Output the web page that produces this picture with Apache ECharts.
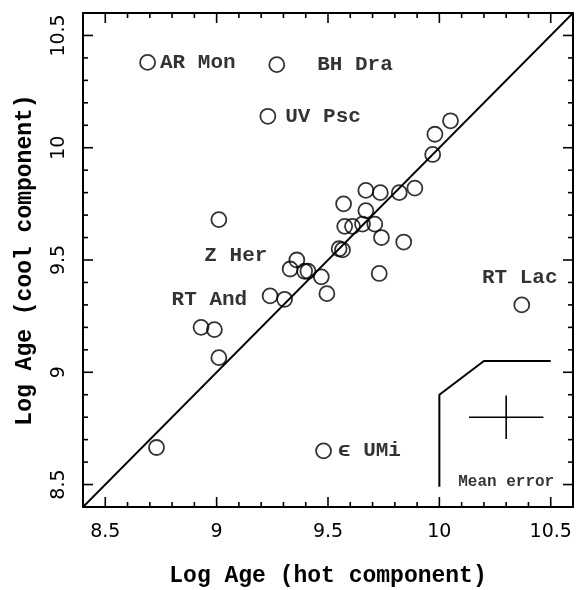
<!DOCTYPE html>
<html>
<head>
<meta charset="utf-8">
<script src="https://cdn.jsdelivr.net/npm/echarts@6/dist/echarts.min.js"></script>
<style>
html, body { margin: 0; padding: 0; background: #fff; }
#main { width: 584px; height: 590px; }
</style>
</head>
<body>
<div id="main"></div>
<script>
// log age of hot and cool component, one entry per binary
var hotAge  = [8.69, 9.27, 9.23, 10.05, 9.98, 9.97, 9.89, 9.82, 9.735, 9.67, 9.57, 9.67, 9.575, 9.61, 9.655, 9.71, 9.74, 9.84, 9.55, 9.565, 9.73, 9.01, 9.36, 9.33, 9.395, 9.41, 9.47, 9.495, 9.24, 9.305, 8.93, 8.99, 9.01, 8.73, 9.48, 10.37];
var coolAge = [10.38, 10.37, 10.14, 10.12, 10.06, 9.97, 9.82, 9.80, 9.80, 9.81, 9.75, 9.72, 9.65, 9.65, 9.66, 9.66, 9.60, 9.58, 9.55, 9.545, 9.44, 9.68, 9.50, 9.46, 9.45, 9.45, 9.425, 9.35, 9.34, 9.325, 9.20, 9.19, 9.065, 8.665, 8.65, 9.30];
var starNames = ['AR Mon', 'BH Dra', 'UV Psc', '', '', '', '', '', '', '', '', '', '', '', '', '', '', '', '', '', '', 'Z Her', '', '', '', '', '', '', '', '', '', 'RT And', '', '', 'ϵ UMi', 'RT Lac'];

var majorTicks = [8.5, 9, 9.5, 10, 10.5];
var minorTicks = [8.6, 8.7, 8.8, 8.9, 9.1, 9.2, 9.3, 9.4, 9.6, 9.7, 9.8, 9.9, 10.1, 10.2, 10.3, 10.4];
var axisRange = [8.4, 10.6];
var oneToOne = [[8.4, 8.4], [10.6, 10.6]];

// "mean error" inset: box outline, error cross, caption
var errorBox = [[10.0, 8.49], [10.0, 8.90], [10.2, 9.05], [10.5, 9.05]];
var errCenter = [10.30, 8.80];
var errX = 0.167;
var errY = 0.097;
var errCaption = [10.30, 8.51];

var labelLayout = {
  'AR Mon': { position: 'right', distance: 4 },
  'BH Dra': { position: 'right', distance: 32 },
  'UV Psc': { position: 'right', distance: 9 },
  'Z Her':  { position: 'inside', offset: [17, 36] },
  'RT And': { position: 'inside', offset: [-5, -30] },
  'RT Lac': { position: 'inside', offset: [-2, -27] },
  'ϵ UMi':  { position: 'right', distance: 6 }
};

var dom = document.getElementById('main');
var myChart = echarts.init(dom);

var black = '#000';
var monoFont = 'Liberation Mono';

var points = [];
for (var i = 0; i < hotAge.length; i++) {
  var item = { value: [hotAge[i], coolAge[i]] };
  var nm = starNames[i];
  if (nm) {
    var lay = labelLayout[nm];
    item.label = {
      show: true,
      formatter: nm,
      position: lay.position,
      distance: lay.distance || 0,
      offset: lay.offset || [0, 0]
    };
  }
  points.push(item);
}

function axis(dim, pos, main) {
  var a = {
    type: 'value',
    position: pos,
    min: axisRange[0],
    max: axisRange[1],
    axisLine: { show: true, onZero: false, lineStyle: { color: black, width: 2 } },
    axisTick: { show: false },
    axisLabel: { show: false },
    splitLine: { show: false }
  };
  if (main) {
    a.axisLabel = {
      show: true,
      customValues: majorTicks,
      color: black,
      fontFamily: 'DejaVu Sans',
      fontSize: 19,
      margin: dim == 'x' ? 16 : 14,
      rotate: dim == 'x' ? 0 : 90
    };
    a.name = dim == 'x' ? 'Log Age (hot component)' : 'Log Age (cool component)';
    a.nameLocation = 'middle';
    a.nameGap = dim == 'x' ? 58 : 46;
    a.nameTextStyle = { color: black, fontFamily: monoFont, fontSize: 23, fontWeight: 'bold' };
  }
  return a;
}

option = {
  backgroundColor: '#fff',
  animation: false,
  grid: { left: 83, right: 11, top: 13, bottom: 83, outerBoundsMode: 'none' },
  xAxis: [axis('x', 'bottom', true), axis('x', 'top', false)],
  yAxis: [axis('y', 'left', true), axis('y', 'right', false)],
  series: [
    {
      type: 'line',
      data: oneToOne,
      symbol: 'none',
      silent: true,
      lineStyle: { color: black, width: 1.8 }
    },
    {
      type: 'scatter',
      data: points,
      symbol: 'circle',
      symbolSize: 15,
      itemStyle: { color: 'rgba(0,0,0,0)', borderColor: black, borderWidth: 1.8 },
      label: { color: black, fontFamily: monoFont, fontSize: 21, fontWeight: 'bold' }
    },
    {
      type: 'line',
      data: errorBox,
      symbol: 'none',
      silent: true,
      lineStyle: { color: black, width: 2 }
    },
    {
      type: 'line',
      data: [[errCenter[0] - errX, errCenter[1]], [errCenter[0] + errX, errCenter[1]]],
      symbol: 'none',
      silent: true,
      lineStyle: { color: black, width: 1.6 }
    },
    {
      type: 'line',
      data: [[errCenter[0], errCenter[1] - errY], [errCenter[0], errCenter[1] + errY]],
      symbol: 'none',
      silent: true,
      lineStyle: { color: black, width: 1.6 }
    },
    {
      type: 'scatter',
      data: [errCaption],
      symbolSize: 0,
      silent: true,
      label: {
        show: true,
        position: 'inside',
        formatter: 'Mean error',
        color: black,
        fontFamily: monoFont,
        fontSize: 16,
        fontWeight: 'bold'
      }
    }
  ]
};

if (option && typeof option === 'object') {
  myChart.setOption(option, true);
}

// inward frame ticks on all four sides, placed with the chart's own scales
var lo = axisRange[0], hi = axisRange[1];
var tickGraphics = [];
function addTick(v, len) {
  var b = myChart.convertToPixel({ gridIndex: 0 }, [v, lo]);
  var t = myChart.convertToPixel({ gridIndex: 0 }, [v, hi]);
  var l = myChart.convertToPixel({ gridIndex: 0 }, [lo, v]);
  var r = myChart.convertToPixel({ gridIndex: 0 }, [hi, v]);
  [
    [b[0], b[1], b[0], b[1] - len],
    [t[0], t[1], t[0], t[1] + len],
    [l[0], l[1], l[0] + len, l[1]],
    [r[0], r[1], r[0] - len, r[1]]
  ].forEach(function (s) {
    tickGraphics.push({
      type: 'line',
      silent: true,
      z: 100,
      shape: { x1: s[0], y1: s[1], x2: s[2], y2: s[3] },
      style: { stroke: black, lineWidth: 1.6 }
    });
  });
}
majorTicks.forEach(function (v) { addTick(v, 10); });
minorTicks.forEach(function (v) { addTick(v, 5); });
myChart.setOption({ graphic: tickGraphics });
</script>
</body>
</html>
